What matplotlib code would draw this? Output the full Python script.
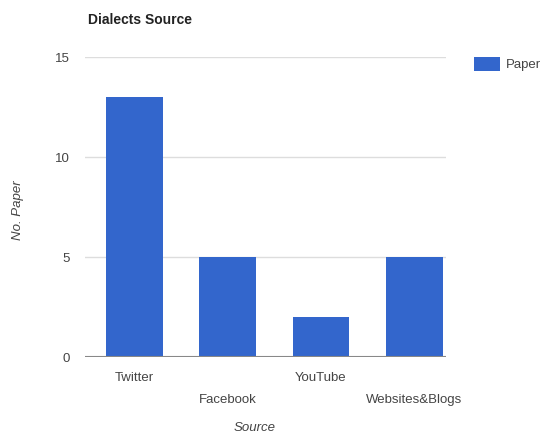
import matplotlib
matplotlib.use("Agg")
import matplotlib.pyplot as plt
from matplotlib.patches import Rectangle

categories = ["Twitter", "Facebook", "YouTube", "Websites&Blogs"]
values = [13, 5, 2, 5]
yticks = [0, 5, 10, 15]
series_name = "Paper"

plt.rcParams['font.family'] = ['Liberation Sans', 'DejaVu Sans']

fig = plt.figure(figsize=(5.41, 4.35), dpi=100)
ax = fig.add_axes([85/541, 1-358/435, (446-85)/541, (358-58)/435])

x = list(range(len(categories)))
ax.bar(x, values, width=0.61, color="#3366CC", zorder=3)
ax.set_xlim(-0.53, 3.34)
ax.set_ylim(0, 15)
ax.set_yticks(yticks)
ax.set_yticklabels([str(t) for t in yticks], color="#444444", fontsize=9.5)
ax.yaxis.grid(True, color="#dddddd", linewidth=1, zorder=0)
ax.axhline(0, color="#888888", linewidth=1.5, zorder=4)
for s in ax.spines.values():
    s.set_visible(False)
ax.tick_params(axis='both', length=0)
ax.tick_params(axis='y', pad=11)
ax.set_xticks(x)
ax.set_xticklabels([])
for i, c in enumerate(categories):
    off = 23 if i % 2 == 0 else 45
    ax.annotate(c, xy=(i, 0), xycoords='data', xytext=(0, -off), textcoords='offset pixels',
                ha='center', va='baseline', fontsize=9.5, color="#444444")

fig.text(255/541, 1-428/435, "Source", ha='center', va='center', fontsize=9.5, style='italic', color="#444444")
fig.text(18/541, 1-210/435, "No. Paper", ha='center', va='center', rotation=90, fontsize=9.5, style='italic', color="#444444")
fig.text(88/541, 1-20/435, "Dialects Source", ha='left', va='center', fontsize=10, fontweight='bold', color="#222222")

fig.patches.append(Rectangle((474/541, 1-72/435), 26/541, 14/435, transform=fig.transFigure,
                             facecolor="#3366CC", edgecolor="none"))
fig.text(506/541, 1-65/435, series_name, ha='left', va='center', fontsize=9.5, color="#444444")

fig.savefig("out.png", dpi=100)
